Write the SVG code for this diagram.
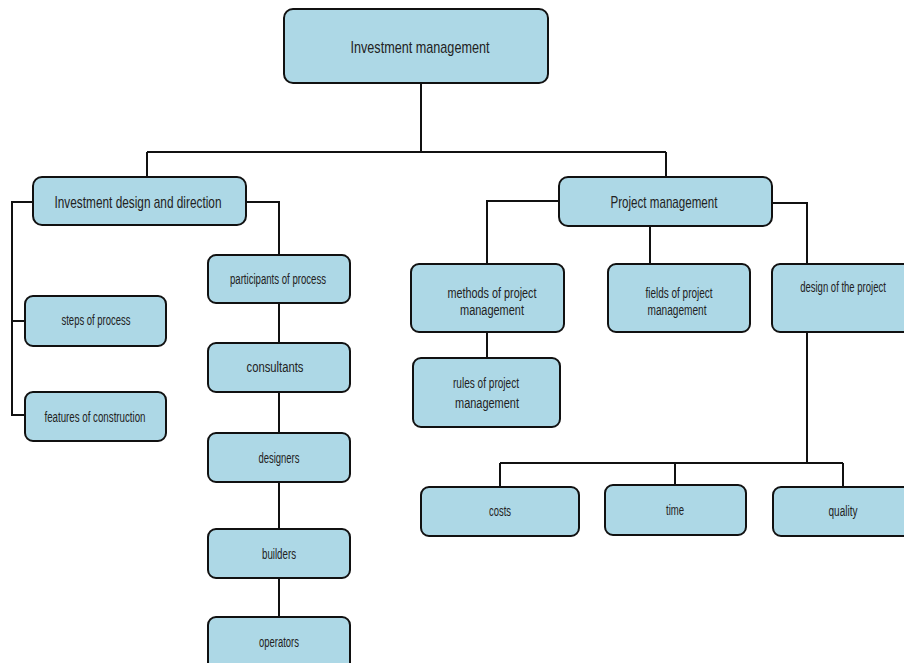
<svg xmlns="http://www.w3.org/2000/svg" width="904" height="663" viewBox="0 0 904 663">
<style>
.n{fill:#add8e6;stroke:#111;stroke-width:2}
.c{fill:none;stroke:#111;stroke-width:2}
text{font-family:"Liberation Sans",Arial,sans-serif;fill:#222;text-anchor:middle}
.b{font-size:17px}
.s{font-size:14px}
</style>
<rect width="904" height="663" fill="#fff"/>
<g id="connectors">
<path class="c" d="M421 83V152M147 152H666M147 152V177M666 152V177"/>
<path class="c" d="M33 202H12V415H25M12 321H25"/>
<path class="c" d="M246 202H279V255"/>
<path class="c" d="M279 303V343M279 392V433M279 482V529M279 578V617"/>
<path class="c" d="M559 201H487V264M650 226V264M772 203H807V264"/>
<path class="c" d="M487 332V358"/>
<path class="c" d="M807 332V463M500 463H843M500 463V487M675 463V485M843 463V487"/>
</g>
<g id="investment-management"><rect class="n" x="284" y="9" width="264" height="74" rx="9"/><text class="b" x="420" y="53" textLength="139" lengthAdjust="spacingAndGlyphs">Investment management</text></g>
<g id="investment-design"><rect class="n" x="33" y="177" width="213" height="48" rx="9"/><text class="b" x="138" y="208" textLength="167" lengthAdjust="spacingAndGlyphs">Investment design and direction</text></g>
<g id="project-management"><rect class="n" x="559" y="177" width="213" height="49" rx="9"/><text class="b" x="664" y="208" textLength="107" lengthAdjust="spacingAndGlyphs">Project management</text></g>
<g id="participants"><rect class="n" x="208" y="255" width="142" height="48" rx="8"/><text class="s" x="278" y="284" textLength="96" lengthAdjust="spacingAndGlyphs">participants of process</text></g>
<g id="steps"><rect class="n" x="25" y="296" width="141" height="50" rx="8"/><text class="s" x="96" y="325" textLength="69" lengthAdjust="spacingAndGlyphs">steps of process</text></g>
<g id="features"><rect class="n" x="25" y="392" width="141" height="49" rx="8"/><text class="s" x="95" y="422" textLength="101" lengthAdjust="spacingAndGlyphs">features of construction</text></g>
<g id="consultants"><rect class="n" x="208" y="343" width="142" height="49" rx="8"/><text class="s" x="275" y="372" textLength="57" lengthAdjust="spacingAndGlyphs">consultants</text></g>
<g id="designers"><rect class="n" x="208" y="433" width="142" height="49" rx="8"/><text class="s" x="279" y="463" textLength="41" lengthAdjust="spacingAndGlyphs">designers</text></g>
<g id="builders"><rect class="n" x="208" y="529" width="142" height="49" rx="8"/><text class="s" x="279" y="559" textLength="34" lengthAdjust="spacingAndGlyphs">builders</text></g>
<g id="operators"><rect class="n" x="208" y="617" width="142" height="60" rx="8"/><text class="s" x="279" y="647" textLength="40" lengthAdjust="spacingAndGlyphs">operators</text></g>
<g id="methods"><rect class="n" x="411" y="264" width="153" height="68" rx="8"/><text class="s" x="492" y="298" textLength="89" lengthAdjust="spacingAndGlyphs">methods of project</text><text class="s" x="492" y="315" textLength="64" lengthAdjust="spacingAndGlyphs">management</text></g>
<g id="fields"><rect class="n" x="608" y="264" width="142" height="68" rx="8"/><text class="s" x="679" y="298" textLength="67" lengthAdjust="spacingAndGlyphs">fields of project</text><text class="s" x="677" y="315" textLength="59" lengthAdjust="spacingAndGlyphs">management</text></g>
<g id="design-project"><rect class="n" x="772" y="264" width="142" height="68" rx="8"/><text class="s" transform="translate(843 292) scale(0.68 1)">design of the project</text></g>
<g id="rules"><rect class="n" x="413" y="358" width="147" height="69" rx="8"/><text class="s" x="486" y="388" textLength="66" lengthAdjust="spacingAndGlyphs">rules of project</text><text class="s" x="487" y="408" textLength="64" lengthAdjust="spacingAndGlyphs">management</text></g>
<g id="costs"><rect class="n" x="421" y="487" width="158" height="49" rx="8"/><text class="s" x="500" y="516" textLength="22" lengthAdjust="spacingAndGlyphs">costs</text></g>
<g id="time"><rect class="n" x="605" y="485" width="141" height="50" rx="8"/><text class="s" x="675" y="515" textLength="18" lengthAdjust="spacingAndGlyphs">time</text></g>
<g id="quality"><rect class="n" x="773" y="487" width="142" height="49" rx="8"/><text class="s" x="843" y="516" textLength="29" lengthAdjust="spacingAndGlyphs">quality</text></g>
</svg>
